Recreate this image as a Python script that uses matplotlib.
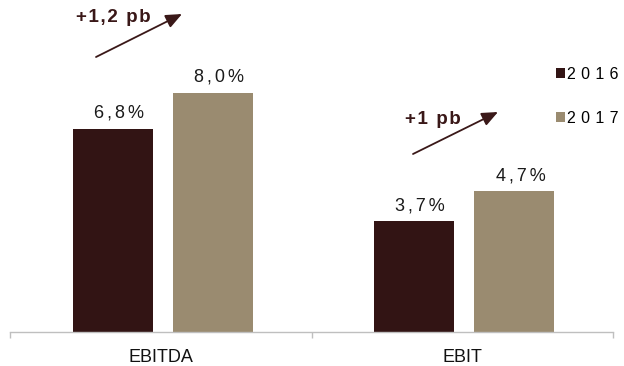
import matplotlib
matplotlib.use("Agg")
import matplotlib.pyplot as plt
import numpy as np
from matplotlib.ticker import FixedLocator, NullFormatter

plt.rcParams["font.family"] = ["Liberation Sans", "DejaVu Sans"]

# Data
categories = ["EBITDA", "EBIT"]
years = ["2016", "2017"]
margin_2016 = [6.8, 3.7]
margin_2017 = [8.0, 4.7]
change_labels = ["+1,2 pb", "+1 pb"]

C16 = "#321414"
C17 = "#9a8b70"
BROWN = "#3a1818"
GRID = "#bfbfbf"


def track(s, sep):
    """Insert a narrow space character between glyphs (letter spacing)."""
    return sep.join(s)


def pct(v):
    return f"{v:.1f}".replace(".", ",") + "%"


W, H = 624, 366
fig = plt.figure(figsize=(W / 100, H / 100), dpi=100)
px_per_unit = 29.9
ax = fig.add_axes([10 / W, 34 / H, 603 / W, 10 * px_per_unit / H])

x = np.arange(len(categories)) + 0.007
off, bw = 0.166, 0.265
b16 = ax.bar(x - off, margin_2016, width=bw, color=C16, label=track(years[0], "\u2004"))
b17 = ax.bar(x + off, margin_2017, width=bw, color=C17, label=track(years[1], "\u2004"))

ax.set_xlim(-0.5, 1.5)
ax.set_ylim(0, 10)

for sp in ("top", "right", "left"):
    ax.spines[sp].set_visible(False)
ax.spines["bottom"].set_color(GRID)
ax.spines["bottom"].set_linewidth(1)
ax.set_yticks([])

# category boundary ticks + centred labels
ax.xaxis.set_major_locator(FixedLocator([-0.5, 0.5, 1.5]))
ax.xaxis.set_major_formatter(NullFormatter())
ax.tick_params(axis="x", which="major", length=4.3, width=1, color=GRID, direction="out")
ax.set_xticks(np.arange(len(categories)), minor=True)
ax.set_xticklabels(categories, minor=True)
ax.tick_params(axis="x", which="minor", length=0, pad=12.5, labelsize=13, labelcolor="#111111")

# value labels
for bars, vals in ((b16, margin_2016), (b17, margin_2017)):
    for rect, v in zip(bars, vals):
        ax.annotate(track(pct(v), "\u2006"),
                    xy=(rect.get_x() + rect.get_width() / 2, v),
                    xytext=(6, 11), textcoords="offset pixels",
                    ha="center", va="baseline", fontsize=13, color="#1a1a1a")

# legend
leg = ax.legend(loc="upper left", bbox_to_anchor=(556 / W, (H - 67) / H),
                bbox_transform=fig.transFigure, frameon=False, fontsize=11.5,
                handlelength=0.56, handleheight=0.56, handletextpad=0.15,
                labelspacing=1.8, borderpad=0, borderaxespad=0)

# change arrows with labels
arrows = [((96, H - 57), (182, H - 14)), ((413, H - 154), (498, H - 112))]
text_pos = [(113, H - 18), (433, H - 120)]
for (start, tip), tp, lab in zip(arrows, text_pos, change_labels):
    ax.annotate("", xy=tip, xytext=start, xycoords="figure pixels",
                textcoords="figure pixels",
                arrowprops=dict(arrowstyle="-|>,head_length=0.75,head_width=0.32",
                                color=BROWN, lw=1.3, mutation_scale=13,
                                shrinkA=0, shrinkB=0))
    fig.text(tp[0] / W, tp[1] / H, track(lab, "\u200a"), ha="center", va="center",
             fontsize=13.5, fontweight="bold", color=BROWN)

fig.savefig("out.png", dpi=100)
